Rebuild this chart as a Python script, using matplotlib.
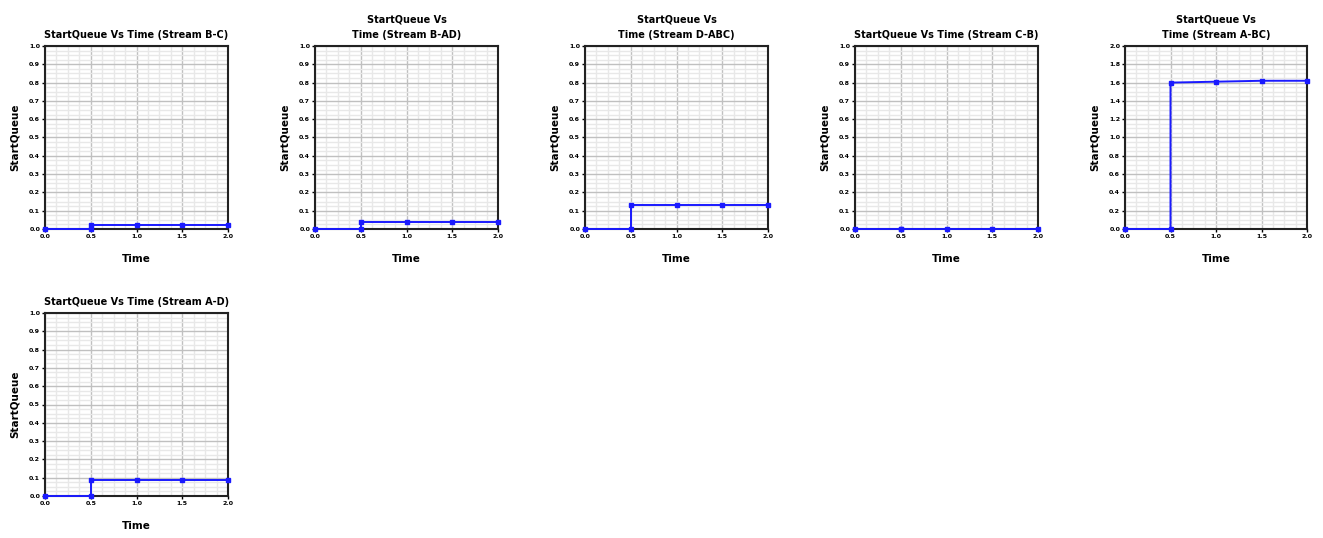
import matplotlib
matplotlib.use("Agg")
import matplotlib.pyplot as plt
from matplotlib.ticker import MultipleLocator, AutoMinorLocator, FormatStrFormatter

titles = [
    "StartQueue Vs Time (Stream B-C)",
    "StartQueue Vs\nTime (Stream B-AD)",
    "StartQueue Vs\nTime (Stream D-ABC)",
    "StartQueue Vs Time (Stream C-B)",
    "StartQueue Vs\nTime (Stream A-BC)",
    "StartQueue Vs Time (Stream A-D)",
]
time_vals = [0.0, 0.5, 0.5, 1.0, 1.5, 2.0]
series = [
    [0.0, 0.0, 0.02, 0.02, 0.02, 0.02],
    [0.0, 0.0, 0.04, 0.04, 0.04, 0.04],
    [0.0, 0.0, 0.13, 0.13, 0.13, 0.13],
    [0.0, 0.0, 0.0, 0.0, 0.0, 0.0],
    [0.0, 0.0, 1.60, 1.61, 1.62, 1.62],
    [0.0, 0.0, 0.09, 0.09, 0.09, 0.09],
]
y_max = [1.0, 1.0, 1.0, 1.0, 2.0, 1.0]
x_ticks = [0.0, 0.5, 1.0, 1.5, 2.0]
x_ticklabels = ["0.0", "0.5", "1.0", "1.5", "2.0"]

W, H = 1323, 538
fig = plt.figure(figsize=(W / 100, H / 100), dpi=100)

# axes boxes in pixels: (left, top, right, bottom)
boxes = [
    (45, 46, 228, 229),
    (315, 46, 498, 229),
    (585, 46, 768, 229),
    (855, 46, 1038, 229),
    (1125, 46, 1307, 229),
    (45, 313, 228, 496),
]

for i, (title, ys, ym, box) in enumerate(zip(titles, series, y_max, boxes)):
    l, t, r, b = box
    ax = fig.add_axes([l / W, 1 - b / H, (r - l) / W, (b - t) / H])
    ax.set_facecolor("white")
    ax.plot(time_vals, ys, color="#1a1aff", lw=1.4, marker="s", ms=3.5,
            mec="#1a1aff", mfc="#1a1aff", clip_on=False, zorder=5)
    ax.set_xlim(0, 2.0)
    ax.set_ylim(0, ym)
    ax.set_xticks(x_ticks)
    ax.set_xticklabels(x_ticklabels)
    ax.yaxis.set_major_locator(MultipleLocator(ym / 10))
    ax.yaxis.set_major_formatter(FormatStrFormatter("%.1f"))
    ax.xaxis.set_minor_locator(AutoMinorLocator(4))
    ax.yaxis.set_minor_locator(AutoMinorLocator(4))
    ax.grid(which="major", color="#c0c0c0", lw=1.0)
    ax.grid(which="minor", color="#e8e8e8", lw=1.0)
    ax.set_axisbelow(True)
    for s in ax.spines.values():
        s.set_color("#222222")
        s.set_linewidth(1.5)
    ax.tick_params(which="major", labelsize=4.5, length=2, width=1, pad=1.5)
    ax.tick_params(which="minor", length=0)
    for lab in ax.get_xticklabels() + ax.get_yticklabels():
        lab.set_fontweight("bold")
    ax.set_title(title, fontsize=7, pad=6, linespacing=1.7, fontweight="bold")
    ax.set_xlabel("Time", fontsize=7.5, labelpad=11, fontweight="bold")
    ax.set_ylabel("StartQueue", fontsize=7.5, labelpad=7, fontweight="bold")

fig.savefig("out.png", dpi=100)
